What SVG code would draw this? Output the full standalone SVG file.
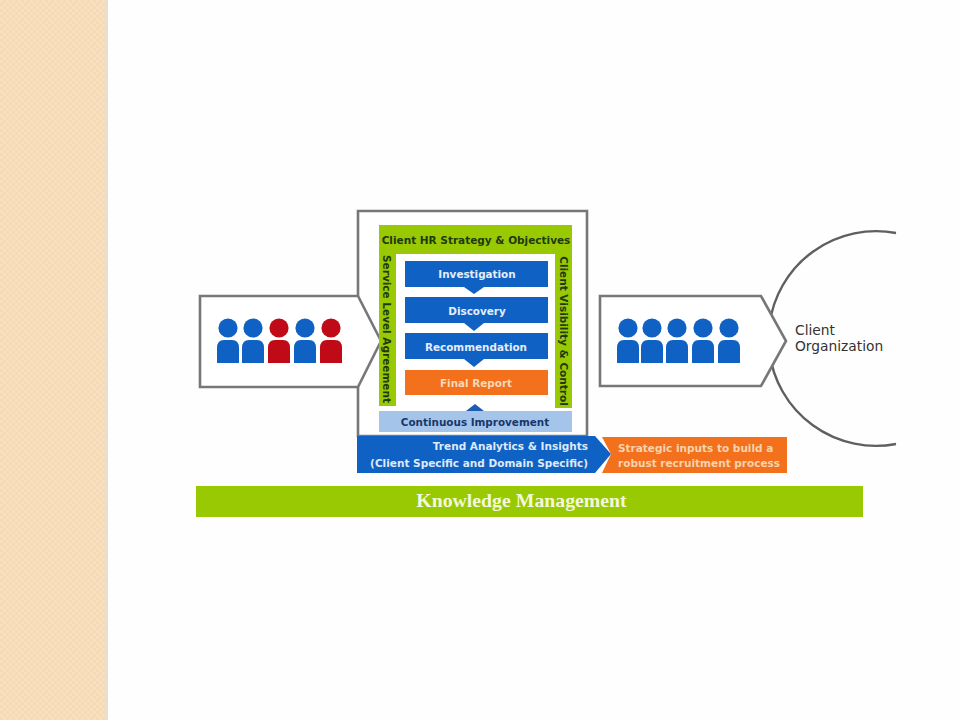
<svg xmlns="http://www.w3.org/2000/svg" width="960" height="720" viewBox="0 0 960 720">
<defs>
<pattern id="weave" width="6" height="6" patternUnits="userSpaceOnUse"><rect width="6" height="6" fill="#f5dab4"/><rect width="3" height="3" fill="#f7dfbf"/><rect x="3" y="3" width="3" height="3" fill="#f7dfbf"/></pattern>
<g id="p"><circle cx="0" cy="-13" r="9.6"/><path d="M-11 22V7Q-11 -1 -4 -1H4Q11 -1 11 7V22Z"/></g>
</defs>
<style>
.t{font-family:"DejaVu Sans","Verdana",sans-serif;font-size:10.4px;font-weight:700}
.w{fill:#e6edf9;text-anchor:middle}.d{fill:#17376a;text-anchor:middle}.g{fill:#1f3a10;text-anchor:middle}
.out{fill:#fff;stroke:#77777b;stroke-width:2.6}
.b{fill:#0f62c4}.r{fill:#c00a18}.o{fill:#f3701c}.gr{fill:#99c902}
</style>
<rect width="960" height="720" fill="#fefefe"/>
<rect width="105" height="720" fill="url(#weave)"/>
<rect x="105" width="3" height="720" fill="#e6dfd3"/>

<g id="knowledge-management"><rect class="gr" x="196" y="486" width="667" height="31"/><text x="521.500" y="507" text-anchor="middle" font-family="'Liberation Serif',serif" font-weight="700" font-size="19.800" fill="#f2f8dc">Knowledge Management</text></g>

<g id="client-organization"><path d="M769.400 325A107.500 107.500 0 0 1 896 233M769.400 352A107.500 107.500 0 0 0 896 444" fill="none" stroke="#5f5f63" stroke-width="2.400"/><text font-family="'DejaVu Sans',sans-serif" font-size="13.800" fill="#333"><tspan x="795" y="335">Client</tspan><tspan x="795" y="351">Organization</tspan></text></g>

<g id="process-frame"><path fill="#fff" stroke="#77777b" stroke-width="2.600" d="M358 296V211H587V436H358V387"/></g>

<g id="input-group"><path class="out" d="M200 296H358L381 341L358 387H200Z"/>
<use href="#p" class="b" x="228" y="341"/><use href="#p" class="b" x="253" y="341"/><use href="#p" class="r" x="279" y="341"/><use href="#p" class="b" x="305" y="341"/><use href="#p" class="r" x="331" y="341"/></g>

<g id="output-group"><path class="out" d="M600 296H761L786 341L761 386H600Z"/>
<use href="#p" class="b" x="628" y="341"/><use href="#p" class="b" x="652" y="341"/><use href="#p" class="b" x="677" y="341"/><use href="#p" class="b" x="703" y="341"/><use href="#p" class="b" x="729" y="341"/></g>

<g id="strategy-frame"><path class="gr" d="M379 225H572V408H555V254H396V406H379Z"/>
<text class="t g" x="476" y="244" style="font-size:10.500px">Client HR Strategy &amp; Objectives</text>
<text class="t g" transform="translate(383 329) rotate(90)" style="font-size:10.500px">Service Level Agreement</text>
<text class="t g" transform="translate(560 331) rotate(90)" style="font-size:10.500px">Client Visibility &amp; Control</text></g>

<g id="connectors">
<path class="b" d="M464 287H484L474 294ZM464 323H484L474 331ZM464 359H484L474 367Z"/>
<path fill="#1d5cb3" d="M466 411H484L475 404Z"/>
</g>

<g id="investigation"><rect class="b" x="405" y="261" width="143" height="26"/><text class="t w" x="477" y="278">Investigation</text></g>
<g id="discovery"><rect class="b" x="405" y="297" width="143" height="26"/><text class="t w" x="477" y="315">Discovery</text></g>
<g id="recommendation"><rect class="b" x="405" y="333" width="143" height="26"/><text class="t w" x="476" y="351">Recommendation</text></g>
<g id="final-report"><rect class="o" x="405" y="370" width="143" height="25"/><text class="t" x="476" y="387" text-anchor="middle" fill="#f7d9b8">Final Report</text></g>
<g id="continuous-improvement"><rect fill="#a5c4ea" x="379" y="411" width="193" height="21"/><text class="t d" x="475" y="426">Continuous Improvement</text></g>

<g id="trend-analytics"><path class="b" d="M357 436H595L611 454L595 473H357Z"/><text class="t" fill="#dfe9f8" text-anchor="end" style="font-size:10.500px"><tspan x="588" y="450">Trend Analytics &amp; Insights</tspan><tspan x="588" y="467">(Client Specific and Domain Specific)</tspan></text></g>
<g id="strategic-inputs"><path class="o" d="M602 437H787V473H602L611 454Z"/><text class="t" fill="#f7d3ae" style="font-size:10.500px"><tspan x="618" y="452">Strategic inputs to build a</tspan><tspan x="618" y="467">robust recruitment process</tspan></text></g>
</svg>
